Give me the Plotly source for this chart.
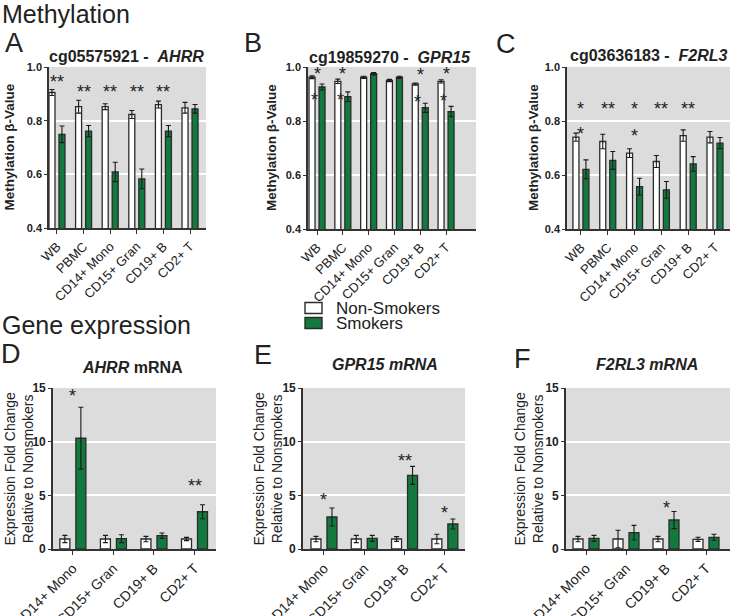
import plotly.graph_objects as go

FONT = "Liberation Sans, Arial, sans-serif"
W, H = 730, 616
OX, OY = 0, 0          # page body margin is removed below, so paper pixels = screen pixels
GREEN = "#127a3f"
EDGE = "#2b2b2b"
BG = "#dcdcdd"
TXT = "#222"

# ---------------- data ----------------
meth_cells = ["WB", "PBMC", "CD14+ Mono", "CD15+ Gran", "CD19+ B", "CD2+ T"]
expr_cells = ["CD14+ Mono", "CD15+ Gran", "CD19+ B", "CD2+ T"]
series_names = ["Non-Smokers", "Smokers"]

# A: cg05575921 - AHRR (methylation beta)
ahrr_meth_ns = [0.905, 0.852, 0.852, 0.823, 0.860, 0.848]
ahrr_meth_ns_err = [0.011, 0.024, 0.011, 0.015, 0.013, 0.020]
ahrr_meth_s = [0.749, 0.761, 0.609, 0.583, 0.761, 0.844]
ahrr_meth_s_err = [0.031, 0.021, 0.036, 0.037, 0.021, 0.016]
ahrr_meth_stars = [(0, 0.960, "**"), (1, 0.923, "**"), (2, 0.923, "**"),
                   (3, 0.923, "**"), (4, 0.923, "**")]

# B: cg19859270 - GPR15
gpr15_meth_ns = [0.962, 0.947, 0.962, 0.950, 0.937, 0.947]
gpr15_meth_ns_err = [0.005, 0.008, 0.004, 0.004, 0.004, 0.006]
gpr15_meth_s = [0.926, 0.890, 0.975, 0.962, 0.849, 0.835]
gpr15_meth_s_err = [0.011, 0.018, 0.004, 0.004, 0.017, 0.019]
gpr15_meth_stars = [(0, 0.990, "*"), (-0.1, 0.894, "*"), (1, 0.990, "*"), (0.9, 0.894, "*"),
                    (4, 0.984, "*"), (3.9, 0.885, "*"), (5, 0.988, "*"), (4.9, 0.889, "*")]

# C: cg03636183 - F2RL3
f2rl3_meth_ns = [0.740, 0.724, 0.681, 0.650, 0.746, 0.740]
f2rl3_meth_ns_err = [0.015, 0.027, 0.016, 0.022, 0.021, 0.021]
f2rl3_meth_s = [0.621, 0.654, 0.557, 0.545, 0.641, 0.718]
f2rl3_meth_s_err = [0.035, 0.033, 0.031, 0.031, 0.027, 0.021]
f2rl3_meth_stars = [(0, 0.860, "*"), (0, 0.767, "*"), (1, 0.860, "**"), (2, 0.860, "*"),
                    (2, 0.761, "*"), (3, 0.860, "**"), (4, 0.860, "**")]

# D: AHRR mRNA (fold change)
ahrr_expr_ns = [0.93, 0.93, 0.93, 0.93]
ahrr_expr_ns_err = [0.34, 0.34, 0.25, 0.15]
ahrr_expr_s = [10.32, 0.96, 1.24, 3.47]
ahrr_expr_s_err = [2.88, 0.37, 0.25, 0.65]
ahrr_expr_stars = [(0, 14.6, "*"), (3, 6.2, "**")]

# E: GPR15 mRNA
gpr15_expr_ns = [0.93, 0.93, 0.93, 0.93]
gpr15_expr_ns_err = [0.25, 0.34, 0.22, 0.44]
gpr15_expr_s = [2.98, 0.99, 6.86, 2.33]
gpr15_expr_s_err = [0.84, 0.28, 0.84, 0.47]
gpr15_expr_stars = [(0, 4.9, "*"), (2, 8.6, "**"), (3, 3.76, "*")]

# F: F2RL3 mRNA
f2rl3_expr_ns = [0.93, 0.93, 0.93, 0.90]
f2rl3_expr_ns_err = [0.25, 0.81, 0.25, 0.19]
f2rl3_expr_s = [0.99, 1.52, 2.70, 1.09]
f2rl3_expr_s_err = [0.28, 0.68, 0.80, 0.28]
f2rl3_expr_stars = [(2, 4.2, "*")]

meth_y_ticks = [0.4, 0.6, 0.8, 1.0]
meth_y_ticktext = ["0.4", "0.6", "0.8", "1.0"]
expr_y_ticks = [0, 5, 10, 15]
expr_y_ticktext = ["0", "5", "10", "15"]


def fx(px):
    return (px - OX) / W


def fy(py):
    return 1 - (py - OY) / H


# ---------------- layout geometry (pixels in the final picture) ----------------
panels = [
    dict(letter="A", title="cg05575921 -  <i>AHRR</i>", cats=meth_cells,
         ns=ahrr_meth_ns, nse=ahrr_meth_ns_err, s=ahrr_meth_s, se=ahrr_meth_s_err,
         stars=ahrr_meth_stars, kind="meth",
         px=(49, 206), py=(67, 228), xr=(-0.30, 5.60), bar=6, half=5,
         letter_xy=(3, 43), title_xy=(126, 56), ytitle_x=9),
    dict(letter="B", title="cg19859270 -  <i>GPR15</i>", cats=meth_cells,
         ns=gpr15_meth_ns, nse=gpr15_meth_ns_err, s=gpr15_meth_s, se=gpr15_meth_s_err,
         stars=gpr15_meth_stars, kind="meth",
         px=(308, 476), py=(67, 229), xr=(-0.35, 6.16), bar=6, half=5,
         letter_xy=(242, 43), title_xy=(390, 57), ytitle_x=271),
    dict(letter="C", title="cg03636183 -  <i>F2RL3</i>", cats=meth_cells,
         ns=f2rl3_meth_ns, nse=f2rl3_meth_ns_err, s=f2rl3_meth_s, se=f2rl3_meth_s_err,
         stars=f2rl3_meth_stars, kind="meth",
         px=(567, 730), py=(67, 229), xr=(-0.52, 5.56), bar=6, half=5,
         letter_xy=(494, 44), title_xy=(649, 55), ytitle_x=533),
    dict(letter="D", title="<i>AHRR</i> mRNA", cats=expr_cells,
         ns=ahrr_expr_ns, nse=ahrr_expr_ns_err, s=ahrr_expr_s, se=ahrr_expr_s_err,
         stars=ahrr_expr_stars, kind="expr",
         px=(53, 216), py=(388, 549), xr=(-0.49, 3.53), bar=10, half=8,
         letter_xy=(-1, 354), title_xy=(132, 367), ytitle_x=18),
    dict(letter="E", title="<i>GPR15 mRNA</i>", cats=expr_cells,
         ns=gpr15_expr_ns, nse=gpr15_expr_ns_err, s=gpr15_expr_s, se=gpr15_expr_s_err,
         stars=gpr15_expr_stars, kind="expr",
         px=(303, 465), py=(388, 549), xr=(-0.52, 3.50), bar=10, half=8,
         letter_xy=(252, 355), title_xy=(385, 364), ytitle_x=267),
    dict(letter="F", title="<i>F2RL3 mRNA</i>", cats=expr_cells,
         ns=f2rl3_expr_ns, nse=f2rl3_expr_ns_err, s=f2rl3_expr_s, se=f2rl3_expr_s_err,
         stars=f2rl3_expr_stars, kind="expr",
         px=(566, 730), py=(388, 549), xr=(-0.50, 3.60), bar=10, half=8,
         letter_xy=(512, 359), title_xy=(647, 364), ytitle_x=528),
]

fig = go.Figure()
annotations = []
shapes = []

annotations.append(dict(text="Methylation", x=fx(0), y=fy(14.5), xref="paper", yref="paper",
                        xanchor="left", yanchor="middle", showarrow=False,
                        font=dict(family=FONT, size=25, color=TXT)))
annotations.append(dict(text="Gene expression", x=fx(0), y=fy(324.5), xref="paper", yref="paper",
                        xanchor="left", yanchor="middle", showarrow=False,
                        font=dict(family=FONT, size=25, color=TXT)))

for i, p in enumerate(panels):
    n = i + 1
    xa = "x" if n == 1 else f"x{n}"
    ya = "y" if n == 1 else f"y{n}"
    xkey = "xaxis" if n == 1 else f"xaxis{n}"
    ykey = "yaxis" if n == 1 else f"yaxis{n}"
    x0, x1 = p["px"]
    y0, y1 = p["py"]
    ppu = (x1 - x0) / (p["xr"][1] - p["xr"][0])
    bw = p["bar"] / ppu
    pos = list(range(len(p["cats"])))
    for j, (vals, errs, fill, name) in enumerate(
            [(p["ns"], p["nse"], "white", series_names[0]),
             (p["s"], p["se"], GREEN, series_names[1])]):
        off = ((-1 if j == 0 else 1) * p["half"] - p["bar"] / 2) / ppu
        fig.add_trace(go.Bar(
            x=pos, y=vals, xaxis=xa, yaxis=ya, name=name,
            legendgroup=name, showlegend=False,
            width=bw, offset=off,
            marker=dict(color=fill, line=dict(color=EDGE, width=1.3)),
            error_y=dict(type="data", array=errs, visible=True,
                         color="#1a1a1a", thickness=1.1, width=2.5),
        ))
    meth = p["kind"] == "meth"
    fig.layout[xkey] = dict(
        domain=[fx(x0), fx(x1)], anchor=ya, range=list(p["xr"]), automargin=False,
        tickmode="array", tickvals=pos, ticktext=p["cats"], tickangle=-45,
        ticks="outside", ticklen=4, tickwidth=1.4, tickcolor="#333",
        showline=True, linecolor="#333", linewidth=1.6, showgrid=False, zeroline=False,
        tickfont=dict(family=FONT, size=13 if meth else 14, color=TXT),
    )
    fig.layout[ykey] = dict(
        domain=[fy(y1), fy(y0)], anchor=xa, automargin=False,
        range=[0.4, 1.0] if meth else [0, 15],
        tickmode="array",
        tickvals=meth_y_ticks if meth else expr_y_ticks,
        ticktext=meth_y_ticktext if meth else expr_y_ticktext,
        ticks="outside", ticklen=3, tickwidth=1.4, tickcolor="#333",
        showline=True, linecolor="#333", linewidth=1.6,
        showgrid=True, gridcolor="white", gridwidth=1.6, zeroline=False,
        tickfont=dict(family=FONT, size=11 if meth else 12, color=TXT, weight="bold"),
    )
    # panel letter
    lx, ly = p["letter_xy"]
    annotations.append(dict(text=p["letter"], x=fx(lx), y=fy(ly), xref="paper", yref="paper",
                            xanchor="left", yanchor="middle", showarrow=False,
                            font=dict(family=FONT, size=27, color=TXT)))
    # panel title
    tx, ty = p["title_xy"]
    annotations.append(dict(text="<b>" + p["title"] + "</b>", x=fx(tx), y=fy(ty),
                            xref="paper", yref="paper", xanchor="center", yanchor="middle",
                            showarrow=False,
                            font=dict(family=FONT, size=16, color=TXT)))
    # y-axis title
    ytext = "<b>Methylation β-Value</b>" if meth else "Expression Fold Change<br>Relative to Nonsmokers"
    annotations.append(dict(text=ytext, x=fx(p["ytitle_x"]), y=fy((y0 + y1) / 2),
                            xref="paper", yref="paper", xanchor="center", yanchor="middle",
                            textangle=-90, showarrow=False,
                            font=dict(family=FONT, size=13.5 if meth else 14, color=TXT)))
    # significance stars
    for (ci, yv, txt) in p["stars"]:
        annotations.append(dict(text=txt, x=ci, y=yv,
                                xref=xa, yref=ya, xanchor="center", yanchor="middle",
                                yshift=-4, showarrow=False,
                                font=dict(family=FONT, size=18, color=TXT)))

# legend (boxes + labels)
legend_rows = [(308, "white"), (323, GREEN)]
for (cy, fill), name in zip(legend_rows, series_names):
    shapes.append(dict(type="rect", xref="paper", yref="paper",
                       x0=fx(305), x1=fx(322), y0=fy(cy - 5.5), y1=fy(cy + 5.5),
                       fillcolor=fill, line=dict(color=EDGE, width=1.4)))
    annotations.append(dict(text=name, x=fx(334), y=fy(cy), xref="paper", yref="paper",
                            xanchor="left", yanchor="middle", showarrow=False,
                            font=dict(family=FONT, size=17, color=TXT)))

fig.update_layout(
    width=W, height=H,
    margin=dict(l=0, r=0, t=0, b=0, autoexpand=False),
    paper_bgcolor="white", plot_bgcolor=BG,
    barmode="overlay",
    showlegend=False,
    annotations=annotations,
    shapes=shapes,
    font=dict(family=FONT),
)

fig.write_html("out.html",
               config={"displayModeBar": False},
               post_script="document.body.style.margin='0px';document.body.style.overflow='hidden';")
